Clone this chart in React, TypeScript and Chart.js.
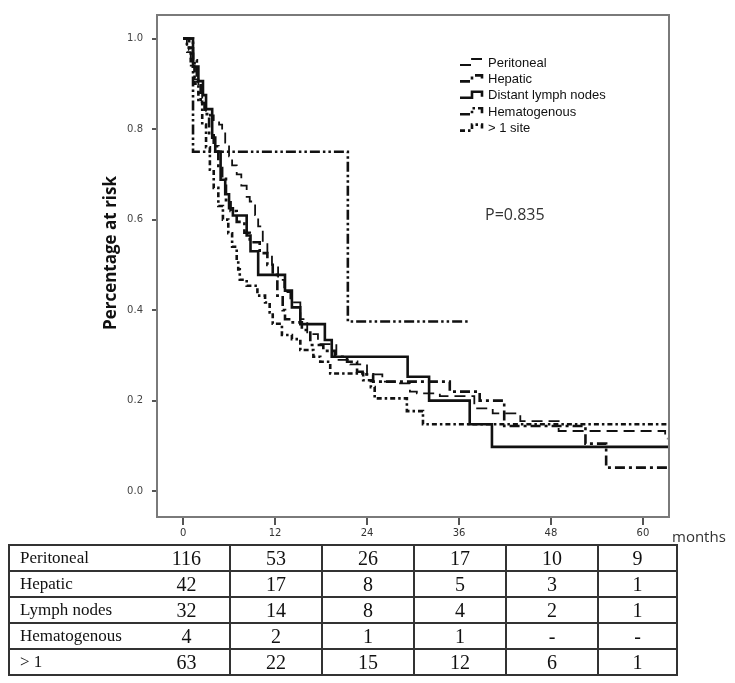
import React, { useEffect, useRef } from "react";
import { Chart, registerables } from "chart.js";

Chart.register(...registerables);

const monthTicks = [0, 12, 24, 36, 48, 60];
const yTicks = [0, 0.2, 0.4, 0.6, 0.8, 1.0];

const legendLabels = ["Peritoneal", "Hepatic", "Distant lymph nodes", "Hematogenous", "> 1 site"];
const yTitle = "Percentage at risk";

// Kaplan-Meier step points (time in months, survival)
const peritonealT = [0, 0.5, 1, 1.5, 2, 2.5, 3, 3.5, 4, 4.7, 5.1, 5.5, 6.0, 6.4, 7.0, 7.6, 8.3, 8.7, 9.4, 9.8, 10.4, 11, 11.6, 12.4, 13.2, 14, 15.3, 16.2, 17.6, 20, 21.8, 24, 26, 27.9, 29.6, 30.5, 33.5, 38, 40.4, 44, 49, 62.9, 63.2];
const peritonealS = [1, 0.97, 0.94, 0.91, 0.88, 0.86, 0.84, 0.83, 0.82, 0.81, 0.795, 0.77, 0.74, 0.72, 0.7, 0.675, 0.65, 0.64, 0.61, 0.585, 0.55, 0.525, 0.5, 0.467, 0.44, 0.417, 0.38, 0.347, 0.325, 0.29, 0.28, 0.258, 0.242, 0.238, 0.22, 0.216, 0.21, 0.183, 0.172, 0.155, 0.133, 0.116, 0.116];

const hepaticT = [0, 0.8, 1.3, 1.8, 2.3, 2.8, 3.4, 4, 4.6, 5.1, 5.6, 6.2, 7, 8, 8.7, 10, 11, 11.7, 12.3, 13, 13.3, 14.3, 15.5, 16.6, 18.3, 19.8, 21.4, 22.7, 23.7, 24.8, 34.8, 38.7, 41.9, 52.5, 55.2, 63.3];
const hepaticS = [1, 0.976, 0.952, 0.905, 0.857, 0.833, 0.786, 0.762, 0.714, 0.69, 0.643, 0.619, 0.595, 0.571, 0.55, 0.526, 0.5, 0.478, 0.432, 0.4, 0.38, 0.373, 0.356, 0.323, 0.31, 0.297, 0.286, 0.264, 0.258, 0.242, 0.22, 0.2, 0.144, 0.105, 0.052, 0.052];

const lymphT = [0, 1.3, 2.0, 2.6, 3.0, 3.8, 4.2, 4.9, 5.5, 6.0, 6.5, 8.3, 8.8, 9.8, 13.3, 14.2, 15.3, 18.5, 19.4, 29.3, 32.1, 37.4, 40.3, 63.3];
const lymphS = [1, 0.938, 0.906, 0.875, 0.844, 0.781, 0.75, 0.688, 0.656, 0.625, 0.609, 0.565, 0.53, 0.478, 0.443, 0.406, 0.369, 0.334, 0.297, 0.253, 0.2, 0.148, 0.098, 0.098];

const hematoT = [0, 1.3, 21.5, 37.2];
const hematoS = [1, 0.75, 0.375, 0.375];

const multiT = [0, 0.5, 1, 1.5, 2, 2.5, 3, 3.5, 4, 4.6, 5.2, 5.9, 6.4, 7.0, 7.2, 7.4, 8.3, 9.7, 10.7, 11.3, 11.7, 12.9, 14.2, 15.3, 17, 17.9, 19.2, 23.5, 24.5, 25, 29.2, 31.3, 63.3];
const multiS = [1, 0.98, 0.95, 0.9, 0.86, 0.81, 0.76, 0.71, 0.67, 0.63, 0.6, 0.57, 0.54, 0.51, 0.49, 0.467, 0.454, 0.432, 0.417, 0.395, 0.37, 0.345, 0.336, 0.312, 0.297, 0.286, 0.26, 0.245, 0.23, 0.205, 0.177, 0.148, 0.148];

const tableLabels = ["Peritoneal", "Hepatic", "Lymph nodes", "Hematogenous", "> 1"];
const peritonealRisk = ["116", "53", "26", "17", "10", "9"];
const hepaticRisk = ["42", "17", "8", "5", "3", "1"];
const lymphRisk = ["32", "14", "8", "4", "2", "1"];
const hematoRisk = ["4", "2", "1", "1", "-", "-"];
const multiRisk = ["63", "22", "15", "12", "6", "1"];

const toPts = (t: number[], s: number[]) => t.map((x, i) => ({ x, y: s[i] }));

const seriesStyles = [
  { dash: [11, 6], width: 1.8 },
  { dash: [10, 4, 3, 4], width: 2.6 },
  { dash: [], width: 2.6 },
  { dash: [10, 3, 2.5, 3, 2.5, 3], width: 2.6 },
  { dash: [5, 3, 2.5, 3], width: 2.6 },
];

const extrasPlugin = {
  id: "extras",
  afterDraw(chart: any) {
    const { ctx, chartArea: a } = chart;
    ctx.save();
    ctx.strokeStyle = "#7a7a7a";
    ctx.lineWidth = 2;
    ctx.setLineDash([]);
    ctx.strokeRect(a.left, a.top, a.right - a.left, a.bottom - a.top);

    // legend
    legendLabels.forEach((lab, i) => {
      const y = 63 + i * 16.4;
      const st = seriesStyles[i];
      ctx.strokeStyle = "#111";
      ctx.lineWidth = st.width;
      ctx.setLineDash(st.dash);
      ctx.beginPath();
      ctx.moveTo(460, y + 2);
      ctx.lineTo(472, y + 2);
      ctx.lineTo(472, y - 4);
      ctx.lineTo(482, y - 4);
      ctx.lineTo(482, y + 1);
      ctx.stroke();
      ctx.setLineDash([]);
      ctx.fillStyle = "#111";
      ctx.font = '13px "Liberation Sans"';
      ctx.textBaseline = "middle";
      ctx.textAlign = "left";
      ctx.fillText(lab, 488, y);
    });

    ctx.fillStyle = "#333";
    ctx.font = '16px "Open Sans"';
    ctx.textBaseline = "middle";
    ctx.fillText("P=0.835", 485, 215);

    ctx.font = '15px "Open Sans"';
    ctx.fillText("months", 672, 538);

    // y-axis title
    ctx.translate(111, 253);
    ctx.rotate(-Math.PI / 2);
    ctx.textAlign = "center";
    ctx.fillStyle = "#111";
    ctx.font = 'bold 17px "Open Sans"';
    ctx.fillText(yTitle, 0, 0);
    ctx.restore();
  },
};

export default function App() {
  const ref = useRef<HTMLCanvasElement | null>(null);
  useEffect(() => {
    if (!ref.current) return;
    const series = [
      toPts(peritonealT, peritonealS),
      toPts(hepaticT, hepaticS),
      toPts(lymphT, lymphS),
      toPts(hematoT, hematoS),
      toPts(multiT, multiS),
    ];
    const chart = new Chart(ref.current, {
      type: "line",
      data: {
        datasets: series.map((d, i) => ({
          label: legendLabels[i],
          data: d,
          borderColor: "#111",
          borderWidth: seriesStyles[i].width,
          borderDash: seriesStyles[i].dash,
          stepped: "before" as any,
          pointRadius: 0,
          fill: false,
        })),
      },
      options: {
        animation: false,
        responsive: false,
        layout: { padding: { left: 97, right: 66, top: 9, bottom: 0 } },
        plugins: { legend: { display: false }, tooltip: { enabled: false } },
        scales: {
          x: {
            type: "linear",
            min: -3.4,
            max: 63.4,
            afterBuildTicks: (s: any) => {
              s.ticks = monthTicks.map((v) => ({ value: v }));
            },
            afterFit: (s: any) => {
              s.height = 28;
            },
            border: { display: false },
            grid: { drawOnChartArea: false, drawTicks: true, tickLength: 8, color: "#555", lineWidth: 2 },
            ticks: {
              color: "#333",
              font: { family: "DejaVu Sans", size: 10 },
              padding: 2,
              maxRotation: 0,
              callback: (v: any) => String(v),
            },
          },
          y: {
            type: "linear",
            min: -0.057,
            max: 1.052,
            afterBuildTicks: (s: any) => {
              s.ticks = yTicks.map((v) => ({ value: v }));
            },
            afterFit: (s: any) => {
              s.width = 60;
            },
            border: { display: false },
            grid: { drawOnChartArea: false, drawTicks: true, tickLength: 5, color: "#555", lineWidth: 2 },
            ticks: {
              color: "#444",
              font: { family: "DejaVu Sans", size: 10 },
              padding: 9,
              callback: (v: any) => Number(v).toFixed(1),
            },
          },
        },
      },
      plugins: [extrasPlugin],
    });
    return () => chart.destroy();
  }, []);

  const rows = [peritonealRisk, hepaticRisk, lymphRisk, hematoRisk, multiRisk];
  const colW = [135, 86, 92, 92, 92, 92, 79];
  const bd = "2px solid #333";
  return (
    <div style={{ position: "absolute", left: 0, top: 0, width: 735, height: 683, background: "#fff" }}>
      <canvas ref={ref} width={735} height={545} style={{ display: "block", width: 735, height: 545 }} />
      <table
        style={{
          position: "absolute",
          left: 8,
          top: 544,
          width: 668,
          borderCollapse: "collapse",
          tableLayout: "fixed",
          fontFamily: '"Liberation Serif", serif',
          color: "#111",
        }}
      >
        <colgroup>
          {colW.map((w, i) => (
            <col key={i} style={{ width: w }} />
          ))}
        </colgroup>
        <tbody>
          {rows.map((r, ri) => (
            <tr key={ri} style={{ height: 26 }}>
              <td style={{ border: bd, borderRight: "none", padding: "0 0 0 10px", fontSize: 17, lineHeight: "22px", whiteSpace: "nowrap" }}>
                {tableLabels[ri]}
              </td>
              {r.map((v, ci) => (
                <td
                  key={ci}
                  style={{
                    border: bd,
                    borderLeft: ci === 0 ? "none" : bd,
                    padding: 0,
                    textAlign: "center",
                    fontSize: 20,
                    lineHeight: "22px",
                  }}
                >
                  {v}
                </td>
              ))}
            </tr>
          ))}
        </tbody>
      </table>
    </div>
  );
}
